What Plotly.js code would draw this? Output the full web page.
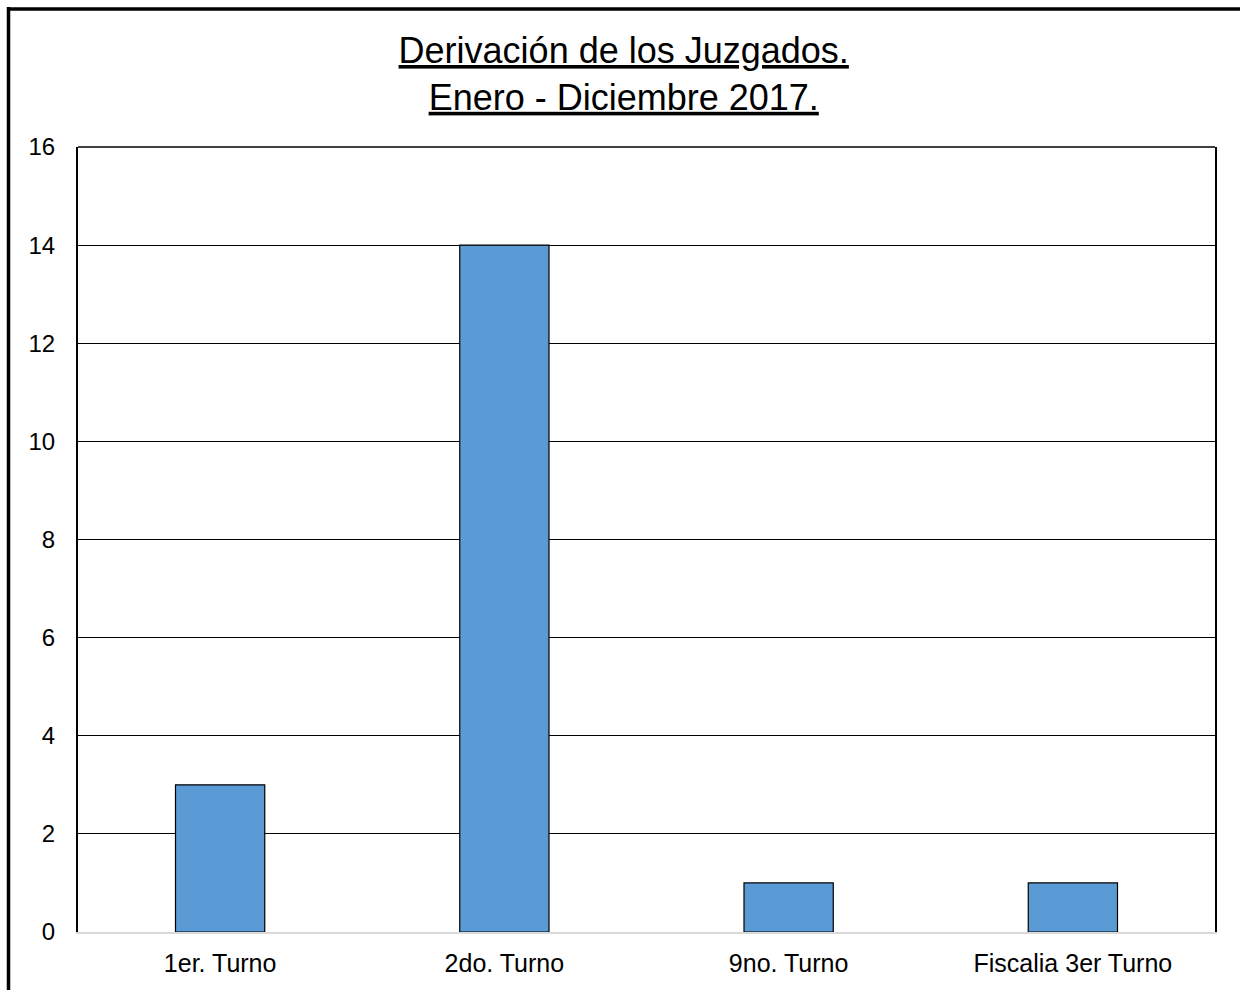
<!DOCTYPE html>
<html>
<head>
<meta charset="utf-8">
<script src="https://cdn.plot.ly/plotly-3.0.1.min.js"></script>
<style>
  html, body { margin: 0; padding: 0; background: #fff; }
  #chart { width: 1240px; height: 990px; }
</style>
</head>
<body>
<div id="chart"></div>
<script>
const categories = ["1er. Turno", "2do. Turno", "9no. Turno", "Fiscalia 3er Turno"];
const values = [3, 14, 1, 1];
const yTicks = [0, 2, 4, 6, 8, 10, 12, 14, 16];
const titleLines = ["Derivación de los Juzgados.", "Enero - Diciembre 2017."];

const W = 1240, H = 990;
const M = { l: 78, r: 25, t: 147, b: 58 };
const pw = W - M.l - M.r, ph = H - M.t - M.b;
const px = v => (v - M.l) / pw;
const py = v => (H - M.b - v) / ph;

const fontFam = "Liberation Sans, Arial, sans-serif";

const trace = {
  type: "bar",
  x: categories,
  y: values,
  marker: { color: "#5b9bd5", line: { color: "#000", width: 1.2 } },
  hoverinfo: "x+y"
};

const layout = {
  width: W, height: H,
  margin: M,
  paper_bgcolor: "#fff",
  plot_bgcolor: "#fff",
  bargap: 0.686,
  showlegend: false,
  font: { family: fontFam, color: "#000" },
  title: {
    text: titleLines.join("<br>"),
    font: { family: fontFam, size: 36, color: "#000", lineposition: "under" },
    x: 0.503, xref: "container", xanchor: "center",
    y: 1 - 63 / H, yref: "container", yanchor: "top"
  },
  xaxis: {
    type: "category",
    showline: true, linecolor: "#d9d9d9", linewidth: 2,
    showgrid: false, zeroline: false,
    ticks: "", tickfont: { family: fontFam, size: 25, color: "#000" },
    ticklabelstandoff: 8
  },
  yaxis: {
    range: [0, 16],
    tickvals: yTicks,
    ticktext: yTicks.map(String),
    showline: true, linecolor: "#000", linewidth: 2, mirror: true,
    showgrid: true, gridcolor: "#000", gridwidth: 1,
    zeroline: false,
    ticks: "", tickfont: { family: fontFam, size: 24, color: "#000" },
    ticklabelstandoff: 16
  },
  shapes: [
    { type: "line", xref: "paper", yref: "paper",
      x0: 0, x1: 1, y0: 1, y1: 1,
      line: { color: "#000", width: 1.5 } },
    { type: "line", xref: "paper", yref: "paper",
      x0: px(8.5), x1: px(8.5), y0: py(7), y1: py(995),
      line: { color: "#000", width: 3.5 } },
    { type: "line", xref: "paper", yref: "paper",
      x0: px(7), x1: px(1245), y0: py(9), y1: py(9),
      line: { color: "#000", width: 3.5 } }
  ]
};

Plotly.newPlot("chart", [trace], layout, { displayModeBar: false, staticPlot: true });
</script>
</body>
</html>
